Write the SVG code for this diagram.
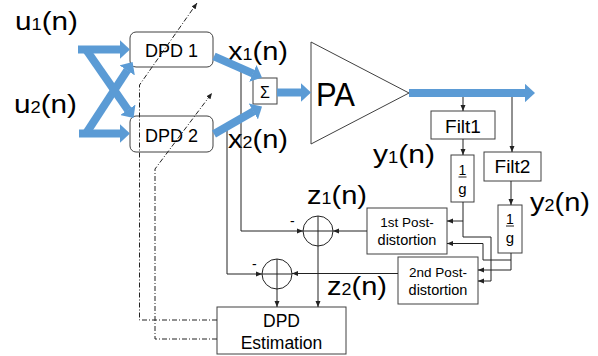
<svg xmlns="http://www.w3.org/2000/svg" width="598" height="356" viewBox="0 0 598 356">
<defs>
<style>
.bx{fill:#fff;stroke:#404040;stroke-width:1}
.ln{fill:none;stroke:#222;stroke-width:1}
.dd{fill:none;stroke:#222;stroke-width:1;stroke-dasharray:5 2 1 2}
.bl{fill:none;stroke:#5b9bd5;stroke-width:8}
.t{font-family:"Liberation Sans",Arial,sans-serif;fill:#000}
.big{font-size:26px}
.sb{font-size:16px}
.c{text-anchor:middle}
</style>
<marker id="ah" viewBox="0 0 6 6" refX="6" refY="3" markerWidth="6" markerHeight="6" markerUnits="userSpaceOnUse" orient="auto"><path d="M0,0.5 L6,3 L0,5.5z" fill="#222"/></marker>
<marker id="bh" viewBox="0 -1.15 1.25 2.3" refX="0.05" refY="0" markerWidth="1.25" markerHeight="2.3" markerUnits="strokeWidth" orient="auto"><path d="M0,-1.15 L1.25,0 L0,1.15z" fill="#5b9bd5"/></marker>
</defs>

<g id="labels" class="t big">
<text x="15" y="30" textLength="63" lengthAdjust="spacingAndGlyphs">u<tspan class="sb">1</tspan>(n)</text>
<text x="14" y="113" textLength="63" lengthAdjust="spacingAndGlyphs">u<tspan class="sb">2</tspan>(n)</text>
<text x="228" y="60" textLength="60" lengthAdjust="spacingAndGlyphs">x<tspan class="sb">1</tspan>(n)</text>
<text x="228" y="148" textLength="60" lengthAdjust="spacingAndGlyphs">x<tspan class="sb">2</tspan>(n)</text>
<text x="373" y="163" textLength="62" lengthAdjust="spacingAndGlyphs">y<tspan class="sb">1</tspan>(n)</text>
<text x="530" y="211" textLength="60" lengthAdjust="spacingAndGlyphs">y<tspan class="sb">2</tspan>(n)</text>
<text x="307" y="204" textLength="60" lengthAdjust="spacingAndGlyphs">z<tspan class="sb">1</tspan>(n)</text>
<text x="327" y="295" textLength="60" lengthAdjust="spacingAndGlyphs">z<tspan class="sb">2</tspan>(n)</text>
</g>

<g id="dpd1"><rect class="bx" x="130" y="32" width="83" height="35" rx="6"/><text class="t c" x="171.5" y="56.5" font-size="18">DPD 1</text></g>
<g id="dpd2"><rect class="bx" x="130" y="116" width="83" height="36" rx="6"/><text class="t c" x="171.5" y="141.5" font-size="18">DPD 2</text></g>
<g id="sum"><rect class="bx" x="253" y="78" width="24" height="26"/><text class="t c" x="265" y="98" font-size="16">Σ</text></g>
<g id="pa"><path class="bx" d="M311,42 L311,144 L409,93z"/><text class="t" x="316" y="106" font-size="33" textLength="39" lengthAdjust="spacingAndGlyphs">PA</text></g>
<g id="filt1"><rect class="bx" x="431" y="111" width="64" height="28"/><text class="t c" x="463" y="133" font-size="19">Filt1</text></g>
<g id="filt2"><rect class="bx" x="484" y="152" width="57" height="29"/><text class="t c" x="512.5" y="173" font-size="19">Filt2</text></g>
<g id="inv1"><rect class="bx" x="451" y="155" width="23" height="47"/><text class="t c" x="462.5" y="175" font-size="14">1</text><line class="ln" x1="458.5" y1="177" x2="466.5" y2="177"/><text class="t c" x="462.5" y="194" font-size="15">g</text></g>
<g id="inv2"><rect class="bx" x="498" y="205" width="24" height="48"/><text class="t c" x="510" y="224" font-size="14">1</text><line class="ln" x1="506" y1="226" x2="514" y2="226"/><text class="t c" x="510" y="243" font-size="15">g</text></g>
<g id="post1"><rect class="bx" x="367" y="208" width="80" height="46"/><text class="t c" x="407" y="227" font-size="13.5">1st Post-</text><text class="t c" x="407" y="245" font-size="14.5">distortion</text></g>
<g id="post2"><rect class="bx" x="398" y="257" width="80" height="47"/><text class="t c" x="438" y="277" font-size="13.5">2nd Post-</text><text class="t c" x="438" y="295" font-size="14.5">distortion</text></g>
<g id="add1"><circle class="ln" cx="318" cy="231" r="15"/><line class="ln" x1="303" y1="231" x2="333" y2="231"/><text class="t" x="290" y="226" font-size="14">-</text></g>
<g id="add2"><circle class="ln" cx="277" cy="274" r="15"/><line class="ln" x1="262" y1="274" x2="292" y2="274"/><text class="t" x="252" y="269" font-size="14">-</text></g>
<g id="est"><rect class="bx" x="217" y="307" width="129" height="47"/><text class="t c" x="281.5" y="327" font-size="17.5">DPD</text><text class="t c" x="281.5" y="349" font-size="17.5">Estimation</text></g>

<g id="connectors">
<path class="ln" marker-end="url(#ah)" d="M463,97 V111"/>
<path class="ln" marker-end="url(#ah)" d="M512,97 V152"/>
<path class="ln" marker-end="url(#ah)" d="M463,139 V155"/>
<path class="ln" marker-end="url(#ah)" d="M511,181 V205"/>
<path class="ln" marker-end="url(#ah)" d="M463,202 V221 H447"/>
<path class="ln" marker-end="url(#ah)" d="M463,221 V237 H491 V281 H478"/>
<path class="ln" marker-end="url(#ah)" d="M511,253 V270 H478"/>
<path class="ln" marker-end="url(#ah)" d="M511,260 H483 V243.5 H447"/>
<path class="ln" marker-end="url(#ah)" d="M367,231 H333"/>
<path class="ln" marker-end="url(#ah)" d="M398,273.5 H292"/>
<path class="ln" marker-end="url(#ah)" d="M241,69 V231 H303"/>
<path class="ln" marker-end="url(#ah)" d="M227,127 V274 H262"/>
<path class="ln" marker-end="url(#ah)" d="M318,216 V307"/>
<path class="ln" marker-end="url(#ah)" d="M277,259 V307"/>
<path class="bl" marker-end="url(#bh)" d="M78,49.5 H120.4"/>
<path class="bl" marker-end="url(#bh)" d="M79,133.5 H120.4"/>
<path class="bl" marker-end="url(#bh)" d="M86,49.5 L128.1,110.1"/>
<path class="bl" marker-end="url(#bh)" d="M86,133.5 L127.35,70.1"/>
<path class="bl" marker-end="url(#bh)" d="M214,56.4 L253.2,73.6"/>
<path class="bl" marker-end="url(#bh)" d="M214,134 L253.7,111.3"/>
<path class="bl" marker-end="url(#bh)" d="M277,92.5 H301.4"/>
<path class="bl" marker-end="url(#bh)" d="M409,93 H525.4"/>
<path class="dd" marker-end="url(#ah)" d="M217,320 H139.5 V85 L197,3"/>
<path class="dd" marker-end="url(#ah)" d="M217,339 H155 V169 L212,93"/>
</g>
</svg>
